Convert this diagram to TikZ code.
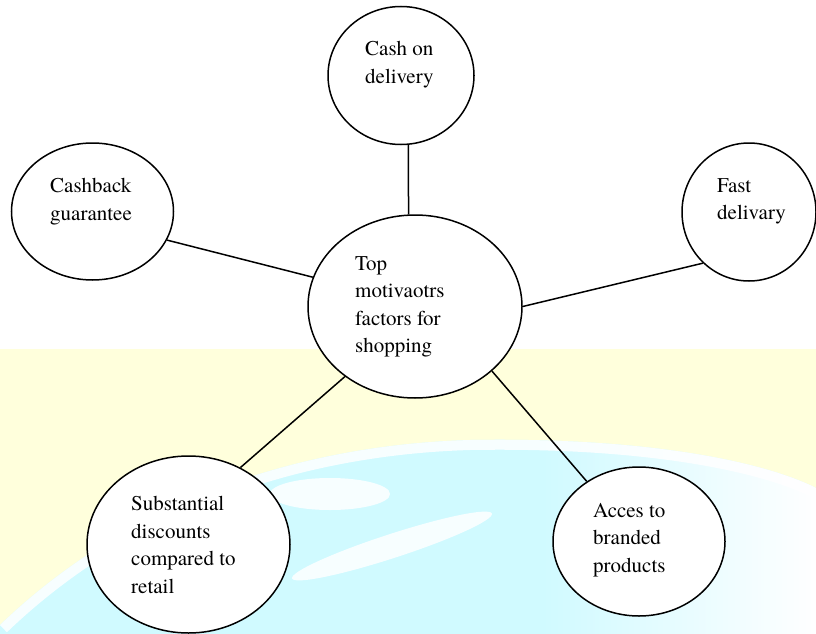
\documentclass[tikz,border=0pt]{standalone}
\usepackage{fontspec}
\newfontfamily\bubblefont{texgyretermes-regular.otf}
\usetikzlibrary{shapes.geometric,fadings}
\definecolor{paleyellow}{RGB}{255,255,220}
\definecolor{palecyan}{RGB}{208,250,255}

\begin{document}
\begin{tikzpicture}[x=1pt,y=-1pt,
		bubble/.style={draw,ellipse,line width=1.5pt,fill=white,inner sep=0pt},
		lbl/.style={anchor=north west,align=left,inner sep=0pt,font=\bubblefont\fontsize{21}{27.5}\selectfont},
		spoke/.style={line width=1.5pt}]
		\useasboundingbox (0,0) rectangle (816,634);
		% background
		\fill[paleyellow] (0,349) rectangle (816,634);
		\begin{scope}
			\clip (0,625) .. controls (130,500) and (300,445) .. (470,440) .. controls (640,437) and (760,460) .. (816,488) |- (0,634) -- cycle;
			\fill[palecyan] (0,420) rectangle (816,634);
			\fill[white,path fading=west] (540,420) rectangle (816,634);
			\draw[white,line width=20pt,opacity=.85] (0,625) .. controls (130,500) and (300,445) .. (470,440) .. controls (640,437) and (760,460) .. (816,488);
			\fill[white,opacity=.85] (330,494) ellipse [x radius=60,y radius=16];
			\fill[white,opacity=.85] (392,546) ellipse [x radius=105,y radius=12,rotate=18];
		\end{scope}
		% bubbles
		\node[bubble,minimum width=146pt,minimum height=138pt] (cod) at (401,75.5) {};
		\node[bubble,minimum width=162pt,minimum height=137pt] (cashback) at (92.5,211.5) {};
		\node[bubble,minimum width=134pt,minimum height=138pt] (fast) at (749,212) {};
		\node[bubble,minimum width=214pt,minimum height=183pt] (core) at (415,306.5) {};
		\node[bubble,minimum width=203pt,minimum height=177pt] (discount) at (188.5,544.5) {};
		\node[bubble,minimum width=172pt,minimum height=149pt] (branded) at (639,541.5) {};
		% texts
		\node[lbl] (codtxt) at (365,41) {Cash on\\delivery};
		\node[lbl] (cashbacktxt) at (50,178) {Cashback\\guarantee};
		\node[lbl] (fasttxt) at (717,178) {Fast\\delivary};
		\node[lbl] (coretxt) at (355,256) {Top\\motivaotrs\\factors for\\shopping};
		\node[lbl] (discounttxt) at (131,496) {Substantial\\discounts\\compared to\\retail};
		\node[lbl] (brandedtxt) at (593,503) {Acces to\\branded\\products};
		% spokes
		\draw[spoke] (cod.-84) -- (core.94.4);
		\draw[spoke] (cashback.-21.6) -- (core.164.4);
		\draw[spoke] (fast.228.6) -- (core.0);
		\draw[spoke] (discount.56.4) -- (core.225.6);
		\draw[spoke] (branded.131) -- (core.-40.5);
\end{tikzpicture}
\end{document}
